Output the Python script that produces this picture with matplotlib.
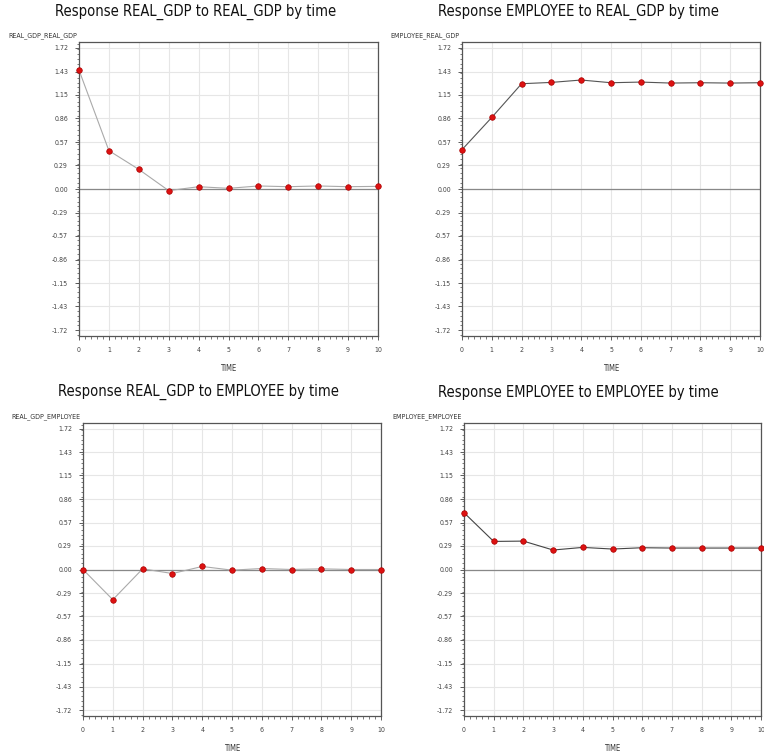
import matplotlib
matplotlib.use("Agg")
import matplotlib.pyplot as plt
from matplotlib import font_manager
from matplotlib.ticker import FixedLocator, AutoMinorLocator

time = list(range(11))
yticks = [-1.72, -1.43, -1.15, -0.86, -0.57, -0.29, 0.00, 0.29, 0.57, 0.86, 1.15, 1.43, 1.72]
ytick_labels = ["%.2f" % v for v in yticks]

gdp_to_gdp = [1.448, 0.467, 0.239, -0.020, 0.028, 0.008, 0.037, 0.028, 0.037, 0.028, 0.032]
emp_to_gdp = [0.479, 0.872, 1.282, 1.298, 1.327, 1.294, 1.302, 1.290, 1.294, 1.290, 1.294]
gdp_to_emp = [0.000, -0.369, 0.008, -0.049, 0.037, -0.008, 0.012, 0.000, 0.008, 0.000, 0.000]
emp_to_emp = [0.694, 0.343, 0.347, 0.238, 0.270, 0.250, 0.266, 0.262, 0.262, 0.262, 0.262]

# choose a narrow font if available
narrow = None
for f in font_manager.fontManager.ttflist:
    if "Narrow" in f.name or f.stretch in ("condensed", "semi-condensed"):
        if "Liberation" in f.name or "DejaVu" in f.name:
            narrow = f
            break
if narrow is not None:
    fam = [narrow.name, "DejaVu Sans"]
    stretch = narrow.stretch
    title_fs = 12.6 if "Narrow" in narrow.name else 10.5
else:
    fam = ["DejaVu Sans"]
    stretch = "normal"
    title_fs = 9.4

panels = [
    ("Response REAL_GDP to REAL_GDP by time", "REAL_GDP_REAL_GDP", gdp_to_gdp, "#aaaaaa",
     [79/764, 1-336/755, 299/764, 294/755], (196/764, 1-12/755)),
    ("Response EMPLOYEE to REAL_GDP by time", "EMPLOYEE_REAL_GDP", emp_to_gdp, "#555555",
     [462/764, 1-336/755, 298/764, 294/755], (578/764, 1-12/755)),
    ("Response REAL_GDP to EMPLOYEE by time", "REAL_GDP_EMPLOYEE", gdp_to_emp, "#aaaaaa",
     [83/764, 1-716/755, 298/764, 293/755], (198/764, 1-392/755)),
    ("Response EMPLOYEE to EMPLOYEE by time", "EMPLOYEE_EMPLOYEE", emp_to_emp, "#444444",
     [464/764, 1-716/755, 297/764, 293/755], (578/764, 1-392/755)),
]

fig = plt.figure(figsize=(7.64, 7.55), dpi=100)
for title, ylab, vals, lc, rect, tpos in panels:
    ax = fig.add_axes(rect)
    ax.set_xlim(0, 10)
    ax.set_ylim(-1.79, 1.79)
    ax.yaxis.set_major_locator(FixedLocator(yticks))
    ax.set_yticklabels(ytick_labels)
    ax.set_xticks(time)
    ax.xaxis.set_minor_locator(AutoMinorLocator(5))
    ax.yaxis.set_minor_locator(AutoMinorLocator(5))
    ax.grid(True, which="major", color="#e6e6e6", linewidth=0.8)
    ax.set_axisbelow(True)
    ax.axhline(0, color="#888888", linewidth=0.9, zorder=1)
    ax.plot(time, vals, color=lc, linewidth=0.8, marker="o", markersize=4,
            markerfacecolor="#dd1111", markeredgecolor="#aa0000", markeredgewidth=0.5,
            zorder=3, clip_on=False)
    ax.tick_params(which="major", length=3, width=0.6, labelsize=5, colors="#444444", pad=5)
    ax.tick_params(which="minor", length=1.8, width=0.5, colors="#444444")
    for lbl in ax.get_xticklabels() + ax.get_yticklabels():
        lbl.set_family(fam)
        lbl.set_stretch(stretch)
    for s in ax.spines.values():
        s.set_color("#555555")
        s.set_linewidth(0.9)
    ax.set_xlabel("TIME", fontsize=5.5, color="#333333", labelpad=8, family=fam, stretch=stretch)
    fig.text(tpos[0], tpos[1], title, fontsize=title_fs, color="#111111", ha="center",
             va="center", family=fam, stretch=stretch)
    ax.annotate(ylab, xy=(0, 1), xycoords="axes fraction", xytext=(-1.5, 2),
                textcoords="offset points", ha="right", va="bottom", fontsize=5,
                color="#333333", family=fam, stretch=stretch)

fig.savefig("out.png", dpi=100, facecolor="white")
